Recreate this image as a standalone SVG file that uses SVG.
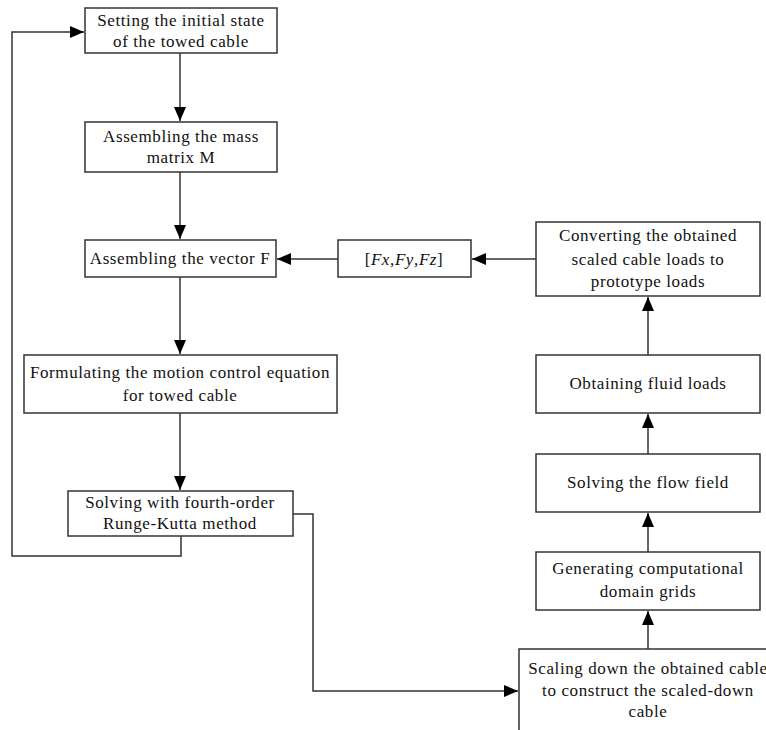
<svg xmlns="http://www.w3.org/2000/svg" width="766" height="730" viewBox="0 0 766 730">
<style>
.box{fill:#fff;stroke:#333;stroke-width:1.5}
.t{font-family:"Liberation Serif","Times New Roman",serif;font-size:17px;letter-spacing:0.6px;fill:#111;text-anchor:middle}
.c{fill:none;stroke:#333;stroke-width:1.5}
</style>
<defs>
<marker id="ah" markerWidth="15" markerHeight="14" refX="14" refY="6" orient="auto" markerUnits="userSpaceOnUse">
<path d="M0,0 L14,6 L0,12 Z" fill="#000"/>
</marker>
</defs>
<rect width="766" height="730" fill="#fff"/>
<g id="connectors">
<path class="c" d="M180,53 V121" marker-end="url(#ah)"/>
<path class="c" d="M180,172 V239" marker-end="url(#ah)"/>
<path class="c" d="M180,277 V354" marker-end="url(#ah)"/>
<path class="c" d="M180,413 V490" marker-end="url(#ah)"/>
<path class="c" d="M181,536 V556 H12 V32 H84" marker-end="url(#ah)"/>
<path class="c" d="M293,514 H313 V691 H518" marker-end="url(#ah)"/>
<path class="c" d="M338,259 H277" marker-end="url(#ah)"/>
<path class="c" d="M536,259 H472" marker-end="url(#ah)"/>
<path class="c" d="M648,355 V297" marker-end="url(#ah)"/>
<path class="c" d="M648,454 V414" marker-end="url(#ah)"/>
<path class="c" d="M648,552 V513" marker-end="url(#ah)"/>
<path class="c" d="M648,649 V611" marker-end="url(#ah)"/>
</g>
<g id="n1"><rect class="box" x="85" y="8" width="192" height="45"/>
<text class="t" x="181" y="26">Setting the initial state</text><text class="t" x="181" y="47">of the towed cable</text></g>
<g id="n2"><rect class="box" x="85" y="122" width="192" height="50"/>
<text class="t" x="181" y="142">Assembling the mass</text><text class="t" x="181" y="163">matrix M</text></g>
<g id="n3"><rect class="box" x="85" y="240" width="191" height="37"/>
<text class="t" x="180" y="264">Assembling the vector F</text></g>
<g id="n4"><rect class="box" x="24" y="355" width="313" height="58"/>
<text class="t" x="180" y="378">Formulating the motion control equation</text><text class="t" x="180" y="401">for towed cable</text></g>
<g id="n5"><rect class="box" x="68" y="491" width="225" height="45"/>
<text class="t" x="180" y="508">Solving with fourth-order</text><text class="t" x="180" y="529">Runge-Kutta method</text></g>
<g id="n6"><rect class="box" x="338" y="240" width="133" height="37"/>
<text class="t" x="404" y="265">[<tspan font-style="italic">Fx</tspan>,<tspan font-style="italic">Fy</tspan>,<tspan font-style="italic">Fz</tspan>]</text></g>
<g id="n7"><rect class="box" x="536" y="222" width="224" height="74"/>
<text class="t" x="648" y="241">Converting the obtained</text><text class="t" x="648" y="265">scaled cable loads to</text><text class="t" x="648" y="287">prototype loads</text></g>
<g id="n8"><rect class="box" x="536" y="355" width="224" height="58"/>
<text class="t" x="648" y="389">Obtaining fluid loads</text></g>
<g id="n9"><rect class="box" x="536" y="454" width="224" height="58"/>
<text class="t" x="648" y="488">Solving the flow field</text></g>
<g id="n10"><rect class="box" x="536" y="552" width="224" height="58"/>
<text class="t" x="648" y="574">Generating computational</text><text class="t" x="648" y="597">domain grids</text></g>
<g id="n11"><rect class="box" x="519" y="649" width="260" height="100"/>
<text class="t" x="648" y="674">Scaling down the obtained cable</text><text class="t" x="648" y="696">to construct the scaled-down</text><text class="t" x="648" y="717">cable</text></g>
</svg>
